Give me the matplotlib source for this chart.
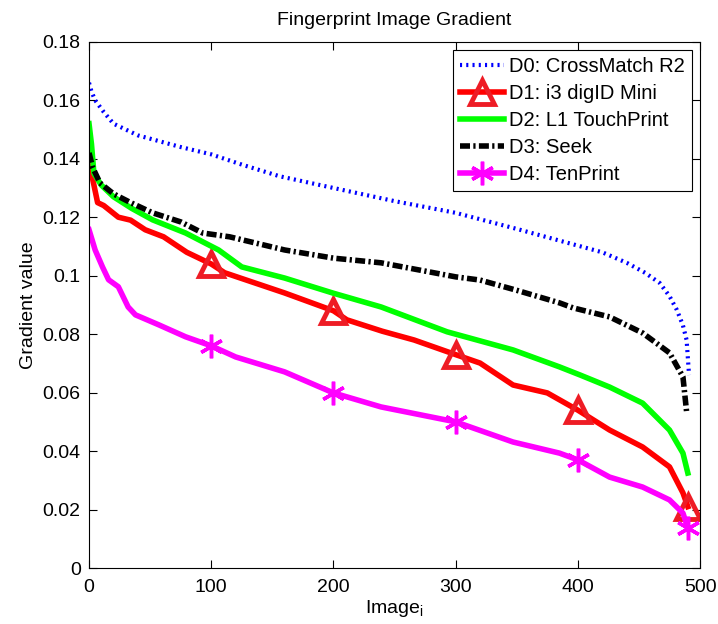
import numpy as np
import matplotlib
matplotlib.use("Agg")
from matplotlib import pyplot as plt

plt.rcParams["font.family"] = ["Liberation Sans", "DejaVu Sans"]

# curves (sorted gradient value per image)
d0_x = [0, 2, 5, 12, 20, 40, 75, 100, 125, 156, 200, 250, 300, 350, 385, 420, 440, 455, 467, 475, 481, 486, 489, 491]
d0_y = [0.166, 0.163, 0.160, 0.156, 0.152, 0.148, 0.144, 0.1415, 0.138, 0.134, 0.130, 0.1255, 0.1215, 0.116,
        0.112, 0.108, 0.1044, 0.101, 0.0975, 0.093, 0.0883, 0.083, 0.078, 0.066]

d1_x = [0, 3, 7, 12, 24, 34, 46, 61, 80, 100, 111, 133, 160, 200, 211, 240, 266, 300, 320, 347, 375, 400,
        426, 453, 475, 486, 490]
d1_y = [0.138, 0.133, 0.125, 0.124, 0.120, 0.119, 0.1157, 0.1133, 0.108, 0.104, 0.101, 0.0979, 0.0941, 0.088,
        0.0849, 0.081, 0.078, 0.073, 0.0701, 0.0626, 0.0599, 0.054, 0.0472, 0.0414, 0.0346, 0.0257, 0.021]

d2_x = [0, 2, 4, 10, 20, 35, 52, 79, 106, 125, 160, 200, 239, 293, 347, 385, 402, 426, 453, 475, 486, 490]
d2_y = [0.152, 0.145, 0.135, 0.131, 0.127, 0.123, 0.1191, 0.1146, 0.1088, 0.103, 0.0992, 0.094, 0.0893, 0.0808,
        0.0746, 0.0688, 0.066, 0.0619, 0.0564, 0.0472, 0.0393, 0.0325]

d3_x = [0, 3, 9, 20, 34, 52, 75, 93, 115, 160, 200, 239, 300, 320, 350, 385, 396, 426, 453, 475, 486, 489]
d3_y = [0.142, 0.137, 0.1317, 0.128, 0.125, 0.1215, 0.1184, 0.1146, 0.1133, 0.1088, 0.106, 0.1044, 0.0996,
        0.0985, 0.095, 0.0907, 0.089, 0.0859, 0.0804, 0.0736, 0.0654, 0.0534]

d4_x = [0, 5, 11, 16, 24, 32, 38, 57, 79, 100, 120, 160, 200, 239, 300, 347, 385, 400, 426, 453, 475, 486, 490]
d4_y = [0.1157, 0.1088, 0.103, 0.0986, 0.0962, 0.0893, 0.0866, 0.0832, 0.0791, 0.076, 0.0722, 0.0671, 0.0599,
        0.0551, 0.05, 0.0431, 0.0393, 0.037, 0.0311, 0.0277, 0.0233, 0.0188, 0.0137]

marker_x = [100, 200, 300, 400, 490]
labels = ["D0: CrossMatch R2", "D1: i3 digID Mini", "D2: L1 TouchPrint", "D3: Seek", "D4: TenPrint"]


def mark_idx(xs):
    return [i for i, v in enumerate(xs) if v in marker_x]


fig = plt.figure(figsize=(7.18, 6.24), dpi=100)
ax = fig.add_axes([0.124, 0.0897, 0.851, 0.8433])

ax.plot(d0_x, d0_y, linestyle=(0, (0.5, 1.0)), color="#0000ff", linewidth=3, label=labels[0])
ax.plot(d1_x, d1_y, "-", color="#ff0000", linewidth=4, marker="^", markevery=mark_idx(d1_x),
        markersize=17, markerfacecolor="none", markeredgecolor="#ee1c25", markeredgewidth=3.5, label=labels[1])
ax.plot(d2_x, d2_y, "-", color="#00ff00", linewidth=4, label=labels[2])
ax.plot(d3_x, d3_y, linestyle=(0, (1.8, 0.6, 0.4, 0.6)), color="black", linewidth=4, label=labels[3])
ax.plot(d4_x, d4_y, "-", color="#ff00ff", linewidth=4, marker=(6, 2, 0), markevery=mark_idx(d4_x),
        markersize=17, markeredgecolor="#ff00ff", markeredgewidth=2.5, label=labels[4])

ax.set_xlim(0, 500)
ax.set_ylim(0, 0.18)
ax.set_xticks([0, 100, 200, 300, 400, 500])
ax.set_yticks(np.arange(0, 0.181, 0.02))
ax.set_yticklabels(["0", "0.02", "0.04", "0.06", "0.08", "0.1", "0.12", "0.14", "0.16", "0.18"])
ax.tick_params(direction="in", top=True, right=True, labelsize=14, length=6, width=0.8, pad=6)
ax.tick_params(axis="x", pad=8)
for s in ax.spines.values():
    s.set_linewidth(0.8)

ax.set_title("Fingerprint Image Gradient", fontsize=14, pad=12)
ax.set_xlabel("Image$_{\\mathregular{i}}$", fontsize=14, labelpad=1)
ax.set_ylabel("Gradient value", fontsize=14, labelpad=4)

leg = ax.legend(loc="upper right", fontsize=14.5, handlelength=2.2, handletextpad=0.25,
                labelspacing=0.4, borderpad=0.35, borderaxespad=0.4, fancybox=False, framealpha=1)
leg.get_frame().set_edgecolor("black")
leg.get_frame().set_linewidth(0.8)

fig.savefig("out.png", dpi=100)
